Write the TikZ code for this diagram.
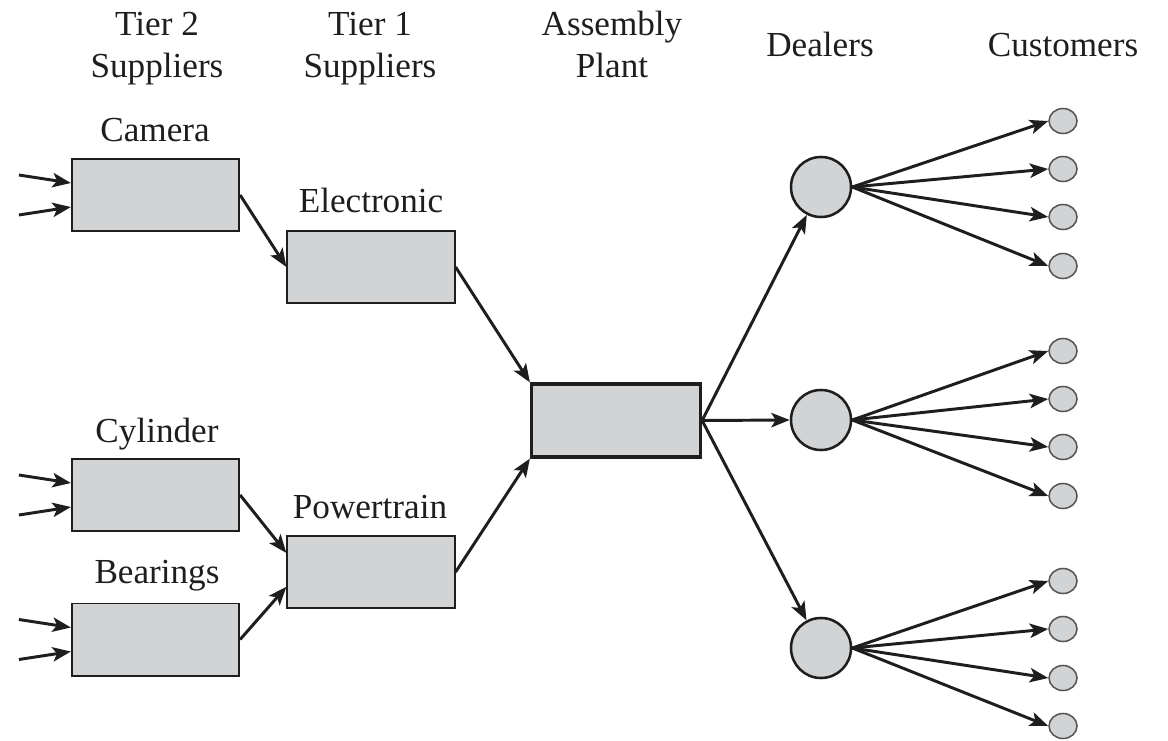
\documentclass[tikz,border=0pt]{standalone}
\usepackage{fontspec}
\setmainfont{Liberation Serif}
\usetikzlibrary{arrows.meta,shapes.geometric,calc}
\definecolor{boxfill}{RGB}{210,211,213}
\definecolor{ink}{RGB}{30,30,30}
\begin{document}
\begin{tikzpicture}[x=0.025cm,y=-0.025cm,
  txt/.style={font=\fontsize{25}{30}\selectfont, text=ink, inner sep=0pt, anchor=base},
  hdr/.style={txt, align=center},
  boxn/.style={draw=ink, fill=boxfill, line width=1.4pt, rectangle, inner sep=0pt,
               minimum width=4.18cm, minimum height=1.8cm},
  asmbox/.style={boxn, line width=2.4pt, minimum width=4.22cm, minimum height=1.82cm},
  dealer/.style={draw=ink, fill=boxfill, line width=1.8pt, circle, inner sep=0pt, minimum size=1.5cm},
  cust/.style={draw=ink!75, fill=boxfill, line width=1.1pt, ellipse, inner sep=0pt,
               minimum width=0.7cm, minimum height=0.625cm},
  arr/.style={draw=ink, line width=2.1pt, -{Stealth[length=0.46cm,width=0.36cm,inset=0.11cm]}},
  ln/.style={draw=ink, line width=2.1pt}
]
\useasboundingbox (0,0) rectangle (1168,741);

% headers
\node[hdr] (h2a) at (157,36) {Tier 2};
\node[hdr] (h2b) at (157,78) {Suppliers};
\node[hdr] (h1a) at (370,36) {Tier 1};
\node[hdr] (h1b) at (370,78) {Suppliers};
\node[hdr] (hpa) at (612,36) {Assembly};
\node[hdr] (hpb) at (612,78) {Plant};
\node[hdr] (hd) at (820,57) {Dealers};
\node[hdr] (hc) at (1063,57) {Customers};

% boxes
\node[boxn] (cam) at (155.5,195) {};
\node[boxn] (elec) at (371,267) {};
\node[boxn] (cyl) at (155.5,495) {};
\node[boxn] (bear) at (155.5,639.5) {};
\node[boxn] (pt) at (371,572) {};
\node[asmbox] (asm) at (616,420.5) {};

% box labels
\node[txt] (lcam) at (155,142) {Camera};
\node[txt] (lelec) at (371,212) {Electronic};
\node[txt] (lcyl) at (157,442) {Cylinder};
\node[txt] (lbear) at (157,583) {Bearings};
\node[txt] (lpt) at (370,518) {Powertrain};

% dealers
\node[dealer] (d1) at (821,187) {};
\node[dealer] (d2) at (821,420) {};
\node[dealer] (d3) at (821,648) {};

% customers
\foreach \i/\y in {1/121,2/169,3/217,4/266}{\node[cust] (c1\i) at (1063,\y) {};}
\foreach \i/\y in {1/351,2/399,3/447,4/496}{\node[cust] (c2\i) at (1063,\y) {};}
\foreach \i/\y in {1/581,2/629,3/678,4/726}{\node[cust] (c3\i) at (1063,\y) {};}

% incoming free arrows
\foreach \b in {cam,cyl,bear}{
  \coordinate (\b in1) at ($(\b.west)+(-52,-20)$);
  \coordinate (\b in2) at ($(\b.west)+(-52,20)$);
  \draw[arr] (\b in1) -- ([yshift=0.3cm]\b.west);
  \draw[arr] (\b in2) -- ([yshift=-0.3cm]\b.west);
}

% supplier flows
\draw[arr] (cam.east) -- (elec.west);
\draw[arr] (cyl.east) -- ([yshift=0.475cm]pt.west);
\draw[arr] (bear.east) -- ([yshift=-0.37cm]pt.west);
\draw[arr] (elec.east) -- (asm.north west);
\draw[arr] (pt.east) -- (asm.south west);

% assembly to dealers
\draw[arr] (asm.east) -- (d1);
\draw[arr] (asm.east) -- (d2.west);
\draw[arr] (asm.east) -- (d3);

% dealers to customers
\foreach \d in {1,2,3}{
  \foreach \i in {1,2,3,4}{
    \draw[arr] (d\d.east) -- (c\d\i.west);
  }
}
\end{tikzpicture}
\end{document}
